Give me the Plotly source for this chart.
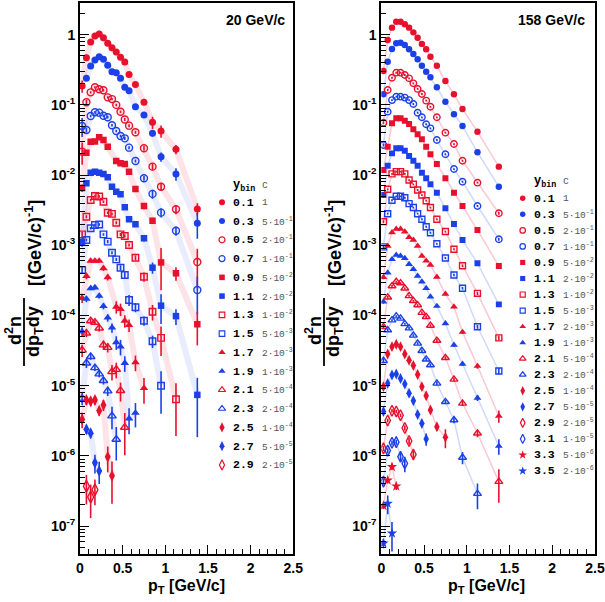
import plotly.graph_objects as go

N = None
pt = [0.025, 0.075, 0.125, 0.175, 0.225, 0.275, 0.325, 0.375, 0.425, 0.475,
      0.525, 0.575, 0.65, 0.75, 0.85, 0.95, 1.125, 1.375]

# ---------------- 20 GeV/c (values already multiplied by c) ----------------
y20_01 = [0.186, 0.47, 0.79, 0.96, 1.02, 0.905, 0.754, 0.65, 0.567, 0.476, 0.41, 0.27, 0.196, 0.109, 0.0566, 0.0425, 0.0233, 0.0033]
y20_03 = [N, 0.239, 0.358, 0.436, 0.486, 0.446, 0.366, 0.297, 0.288, 0.239, 0.178, 0.159, 0.094, 0.072, 0.0394, 0.0183, 0.0104, 0.00206]
y20_05 = [0.0216, 0.109, 0.151, 0.178, 0.167, 0.162, 0.128, 0.121, 0.1, 0.08, 0.062, 0.0506, 0.0407, 0.0241, 0.0132, 0.00684, 0.00326, 0.000578]
y20_07 = [0.05, 0.0439, 0.0695, 0.0785, 0.0775, 0.0702, 0.0666, 0.0512, 0.0425, 0.036, 0.0334, 0.0246, 0.0159, 0.009, 0.0054, 0.00292, 0.00161, 0.000231]
y20_09 = [0.00655, 0.0208, 0.0299, 0.0302, 0.0345, 0.0316, 0.0254, N, 0.0159, 0.0147, 0.0144, 0.0112, 0.00634, 0.00362, 0.00224, 0.00057, 0.0004, 7.5e-5]
y20_11 = [0.00112, 0.00764, 0.0108, 0.0112, 0.0108, 0.0104, 0.0093, 0.00684, 0.0058, 0.00532, 0.00348, 0.00235, 0.002, 0.00126, 0.00048, 0.000138, 9.8e-5, 7.4e-6]
y20_13 = [0.00143, 0.00255, 0.00442, 0.00504, 0.00495, 0.00418, 0.00291, 0.0028, 0.0021, 0.00143, 0.00136, 0.00101, 0.000666, 0.000357, 0.000113, 4.8e-5, 6.4e-6, N]
y20_15 = [0.000445, 0.00119, 0.00175, 0.00195, 0.00198, 0.00143, 0.00113, 0.000785, 0.00063, 0.00048, 0.000377, 0.000166, 0.000131, 8.4e-5, 4.3e-5, 1.0e-5, N, N]
y20_17 = [0.000177, 0.000365, 0.0006, 0.0006, 0.0006, 0.00047, 0.00035, N, 0.000133, 0.000123, 8.4e-5, 7.3e-5, 2.15e-5, 9.2e-6, N, N, N, N]
y20_19 = [5.9e-5, 0.000172, 0.000244, 0.00025, 0.00019, 0.000136, 9.3e-5, 6.7e-5, 4.15e-5, 3.6e-5, 2.1e-5, 3.4e-6, 4.1e-6, N, N, N, N, N]
y20_21 = [3.2e-5, 5.6e-5, 8.4e-5, 8.0e-5, 6.6e-5, 3.8e-5, 3.5e-5, 1.58e-5, 1.7e-5, 8.5e-6, 2.55e-6, N, N, N, N, N, N, N]
y20_23 = [6.6e-6, 2.1e-5, 2.6e-5, 1.8e-5, 1.47e-5, 1.18e-5, 8.4e-6, 3.7e-6, 1.72e-6, N, N, N, N, N, N, N, N, N]
y20_25 = [3.3e-6, 6.25e-6, 6.0e-6, 6.25e-6, 4.4e-6, 5.3e-6, 9.7e-7, 5.2e-7, N, N, N, N, N, N, N, N, N, N]
y20_27 = [N, 2.4e-6, 2.1e-6, 8.0e-7, 6.1e-7, N, N, N, N, N, N, N, N, N, N, N, N, N]
y20_29 = [N, 3.7e-7, 2.6e-7, 3.3e-7, N, N, N, N, N, N, N, N, N, N, N, N, N, N]

# relative errors, 20 GeV/c
e20_01 = [0.2, 0.1, 0.04, 0.04, 0.04, 0.04, 0.04, 0.04, 0.04, 0.04, 0.04, 0.08, 0.08, 0.08, 0.2, 0.2, 0.15, 0.2]
e20_03 = [0, 0.05, 0.04, 0.04, 0.04, 0.04, 0.04, 0.04, 0.04, 0.04, 0.04, 0.05, 0.05, 0.08, 0.1, 0.15, 0.2, 0.4]
e20_05 = [0.35, 0.08, 0.04, 0.04, 0.04, 0.04, 0.04, 0.04, 0.04, 0.04, 0.05, 0.05, 0.05, 0.08, 0.12, 0.12, 0.15, 0.55]
e20_07 = [0.3, 0.08, 0.04, 0.04, 0.04, 0.04, 0.04, 0.04, 0.04, 0.04, 0.05, 0.05, 0.05, 0.08, 0.15, 0.15, 0.15, 0.55]
e20_09 = [0.12, 0.05, 0.04, 0.04, 0.04, 0.04, 0.04, 0, 0.05, 0.05, 0.05, 0.05, 0.08, 0.1, 0.1, 0.6, 0.22, 0.5]
e20_11 = [0.15, 0.05, 0.04, 0.04, 0.04, 0.04, 0.04, 0.05, 0.05, 0.05, 0.05, 0.05, 0.08, 0.1, 0.18, 0.45, 0.25, 0.75]
e20_13 = [0.08, 0.05, 0.04, 0.04, 0.04, 0.04, 0.04, 0.04, 0.05, 0.05, 0.05, 0.05, 0.08, 0.15, 0.25, 0.45, 0.7, 0]
e20_15 = [0.1, 0.05, 0.04, 0.04, 0.04, 0.04, 0.05, 0.05, 0.05, 0.08, 0.1, 0.18, 0.15, 0.15, 0.2, 0.6, 0, 0]
e20_17 = [0.15, 0.1, 0.05, 0.05, 0.05, 0.08, 0.1, 0, 0.2, 0.2, 0.2, 0.2, 0.25, 0.4, 0, 0, 0, 0]
e20_19 = [0.15, 0.1, 0.06, 0.06, 0.08, 0.1, 0.12, 0.15, 0.22, 0.25, 0.25, 0.4, 0.38, 0, 0, 0, 0, 0]
e20_21 = [0.2, 0.12, 0.08, 0.08, 0.1, 0.15, 0.15, 0.25, 0.25, 0.3, 0.6, 0, 0, 0, 0, 0, 0, 0]
e20_23 = [0.2, 0.15, 0.1, 0.1, 0.1, 0.12, 0.15, 0.35, 0.5, 0, 0, 0, 0, 0, 0, 0, 0, 0]
e20_25 = [0.25, 0.15, 0.15, 0.15, 0.15, 0.18, 0.4, 0.6, 0, 0, 0, 0, 0, 0, 0, 0, 0, 0]
e20_27 = [0, 0.15, 0.15, 0.3, 0.35, 0, 0, 0, 0, 0, 0, 0, 0, 0, 0, 0, 0, 0]
e20_29 = [0, 0.45, 0.5, 0.4, 0, 0, 0, 0, 0, 0, 0, 0, 0, 0, 0, 0, 0, 0]

# ---------------- 158 GeV/c ----------------
y158_01 = [0.304, 0.84, 1.26, 1.53, 1.53, 1.41, 1.26, 1.08, 0.906, 0.74, 0.62, 0.486, 0.362, 0.219, 0.142, 0.0874, 0.0415, 0.0132]
y158_03 = [0.142, 0.412, 0.625, 0.754, 0.77, 0.713, 0.62, 0.531, 0.446, 0.362, 0.297, 0.247, 0.178, 0.111, 0.0735, 0.05, 0.0211, 0.00684]
y158_05 = [0.0557, 0.163, 0.244, 0.288, 0.288, 0.267, 0.239, 0.203, 0.169, 0.143, 0.115, 0.094, 0.0666, 0.0402, 0.0277, 0.016, 0.0078, 0.00286]
y158_07 = [0.0268, 0.08, 0.117, 0.131, 0.131, 0.127, 0.117, 0.103, 0.0774, 0.0666, 0.053, 0.0464, 0.0316, 0.0198, 0.0122, 0.00805, 0.00363, 0.00122]
y158_09 = [0.0118, 0.0254, 0.0547, 0.0644, 0.0644, 0.0596, 0.0535, 0.0449, 0.0381, 0.0324, 0.0254, 0.0198, 0.0144, 0.009, 0.00561, 0.00363, 0.00165, 0.000507]
y158_11 = [0.0052, 0.0136, 0.0204, 0.0241, 0.0241, 0.0223, 0.0187, 0.016, 0.0136, 0.0108, 0.009, 0.0074, 0.0056, 0.00337, 0.00201, 0.00119, 0.000554, 0.000144]
y158_13 = [0.00217, 0.00628, 0.0104, 0.0112, 0.0112, 0.0104, 0.0085, 0.0074, 0.00614, 0.0052, 0.00432, 0.00345, 0.00235, 0.00157, 0.00088, 0.000512, 0.000207, 4.8e-5]
y158_15 = [0.00095, 0.00282, 0.00438, 0.00499, 0.00499, 0.00476, 0.00392, 0.00345, 0.00282, 0.00235, 0.00184, 0.00151, 0.00105, 0.00066, 0.000377, 0.000244, 6.9e-5, 1.62e-5]
y158_17 = [0.00035, 0.00098, 0.00152, 0.00171, 0.00171, 0.00156, 0.0013, 0.00119, 0.00098, 0.000704, 0.0006, 0.000524, 0.000353, 0.000202, 0.000133, 5.8e-5, 1.9e-5, 3.7e-6]
y158_19 = [0.000157, 0.000407, 0.00063, 0.000728, 0.000705, 0.000653, 0.000536, 0.000455, 0.000365, 0.000303, 0.000244, 0.000185, 0.000136, 7.7e-5, 3.8e-5, 2.04e-5, 6.7e-6, 1.38e-6]
y158_21 = [6.9e-5, 0.000182, 0.000263, 0.000303, 0.00029, 0.000244, 0.00019, 0.000162, 0.000141, 0.00011, 9.6e-5, 7.2e-5, 4.4e-5, 2.5e-5, 1.23e-5, 5.6e-6, 2.1e-6, 4.3e-7]
y158_23 = [2.27e-5, 6.2e-5, 8.6e-5, 9.8e-5, 9.1e-5, 7.6e-5, 6.6e-5, 5.2e-5, 4.0e-5, 3.15e-5, 2.38e-5, 1.97e-5, 1.08e-5, 5.9e-6, 3.25e-6, 9.5e-7, 2.9e-7, N]
y158_25 = [9.7e-6, 2.83e-5, 3.6e-5, 3.9e-5, 3.6e-5, 2.83e-5, 2.3e-5, 1.94e-5, 1.44e-5, 9.7e-6, 7.2e-6, 4.5e-6, 2.6e-6, 1.84e-6, N, N, N, N]
y158_27 = [4.3e-6, 1.08e-5, 1.42e-5, 1.47e-5, 1.27e-5, 1.06e-5, 7.8e-6, 6.1e-6, 3.9e-6, 2.9e-6, 1.74e-6, N, N, N, N, N, N, N]
y158_29 = [1.28e-6, 3.2e-6, 4.4e-6, 4.3e-6, 3.8e-6, 2.5e-6, 1.63e-6, 1.05e-6, N, N, N, N, N, N, N, N, N, N]
y158_31 = [4.3e-7, 1.19e-6, 1.54e-6, 1.57e-6, 9.7e-7, 7.8e-7, N, N, N, N, N, N, N, N, N, N, N, N]
y158_33 = [1.95e-7, 4.5e-7, 7.0e-7, 3.7e-7, N, N, N, N, N, N, N, N, N, N, N, N, N, N]
y158_35 = [5.7e-8, 2.1e-7, 7.9e-8, N, N, N, N, N, N, N, N, N, N, N, N, N, N, N]

e158_01 = [0.05, 0.03, 0.03, 0.03, 0.03, 0.03, 0.03, 0.03, 0.03, 0.03, 0.03, 0.03, 0.03, 0.03, 0.03, 0.03, 0.03, 0.04]
e158_03 = [0.05, 0.03, 0.03, 0.03, 0.03, 0.03, 0.03, 0.03, 0.03, 0.03, 0.03, 0.03, 0.03, 0.03, 0.03, 0.03, 0.03, 0.05]
e158_05 = [0.05, 0.03, 0.03, 0.03, 0.03, 0.03, 0.03, 0.03, 0.03, 0.03, 0.03, 0.03, 0.03, 0.03, 0.03, 0.03, 0.03, 0.05]
e158_07 = [0.05, 0.03, 0.03, 0.03, 0.03, 0.03, 0.03, 0.03, 0.03, 0.03, 0.03, 0.03, 0.03, 0.03, 0.03, 0.03, 0.03, 0.05]
e158_09 = [0.05, 0.03, 0.03, 0.03, 0.03, 0.03, 0.03, 0.03, 0.03, 0.03, 0.03, 0.03, 0.03, 0.03, 0.03, 0.03, 0.04, 0.06]
e158_11 = [0.05, 0.03, 0.03, 0.03, 0.03, 0.03, 0.03, 0.03, 0.03, 0.03, 0.03, 0.03, 0.03, 0.03, 0.03, 0.03, 0.04, 0.06]
e158_13 = [0.05, 0.03, 0.03, 0.03, 0.03, 0.03, 0.03, 0.03, 0.03, 0.03, 0.03, 0.03, 0.03, 0.03, 0.03, 0.04, 0.05, 0.08]
e158_15 = [0.05, 0.03, 0.03, 0.03, 0.03, 0.03, 0.03, 0.03, 0.03, 0.03, 0.03, 0.03, 0.03, 0.03, 0.04, 0.04, 0.06, 0.1]
e158_17 = [0.06, 0.03, 0.03, 0.03, 0.03, 0.03, 0.03, 0.03, 0.03, 0.03, 0.03, 0.03, 0.04, 0.04, 0.05, 0.06, 0.08, 0.2]
e158_19 = [0.06, 0.03, 0.03, 0.03, 0.03, 0.03, 0.03, 0.03, 0.03, 0.03, 0.03, 0.04, 0.04, 0.05, 0.06, 0.06, 0.1, 0.25]
e158_21 = [0.06, 0.04, 0.03, 0.03, 0.03, 0.03, 0.03, 0.03, 0.03, 0.04, 0.04, 0.04, 0.05, 0.05, 0.06, 0.08, 0.12, 0.5]
e158_23 = [0.08, 0.04, 0.03, 0.03, 0.03, 0.03, 0.04, 0.04, 0.04, 0.04, 0.05, 0.05, 0.06, 0.06, 0.1, 0.2, 0.4, 0]
e158_25 = [0.06, 0.04, 0.04, 0.04, 0.04, 0.04, 0.05, 0.05, 0.05, 0.06, 0.06, 0.08, 0.12, 0.3, 0, 0, 0, 0]
e158_27 = [0.06, 0.05, 0.04, 0.04, 0.05, 0.05, 0.06, 0.06, 0.08, 0.1, 0.2, 0, 0, 0, 0, 0, 0, 0]
e158_29 = [0.08, 0.06, 0.06, 0.06, 0.06, 0.08, 0.1, 0.12, 0, 0, 0, 0, 0, 0, 0, 0, 0, 0]
e158_31 = [0.1, 0.08, 0.08, 0.08, 0.15, 0.25, 0, 0, 0, 0, 0, 0, 0, 0, 0, 0, 0, 0]
e158_33 = [0.1, 0.1, 0.1, 0.12, 0, 0, 0, 0, 0, 0, 0, 0, 0, 0, 0, 0, 0, 0]
e158_35 = [0.15, 0.3, 0.45, 0, 0, 0, 0, 0, 0, 0, 0, 0, 0, 0, 0, 0, 0, 0]

ybins = ["0.1", "0.3", "0.5", "0.7", "0.9", "1.1", "1.3", "1.5", "1.7",
         "1.9", "2.1", "2.3", "2.5", "2.7", "2.9", "3.1", "3.3", "3.5"]
c_labels = ["1", "5·10<sup>-1</sup>", "2·10<sup>-1</sup>", "1·10<sup>-1</sup>",
            "5·10<sup>-2</sup>", "2·10<sup>-2</sup>", "1·10<sup>-2</sup>",
            "5·10<sup>-3</sup>", "2·10<sup>-3</sup>", "1·10<sup>-3</sup>",
            "5·10<sup>-4</sup>", "2·10<sup>-4</sup>", "1·10<sup>-4</sup>",
            "5·10<sup>-5</sup>", "2·10<sup>-5</sup>", "1·10<sup>-5</sup>",
            "5·10<sup>-6</sup>", "2·10<sup>-6</sup>"]
y_ticks = [1e-7, 1e-6, 1e-5, 1e-4, 1e-3, 1e-2, 1e-1, 1]
y_ticktext = ["10<sup>-7</sup>", "10<sup>-6</sup>", "10<sup>-5</sup>", "10<sup>-4</sup>",
              "10<sup>-3</sup>", "10<sup>-2</sup>", "10<sup>-1</sup>", "1"]
x_ticks = [0, 0.5, 1, 1.5, 2, 2.5]

series20 = [(y20_01, e20_01), (y20_03, e20_03), (y20_05, e20_05), (y20_07, e20_07),
            (y20_09, e20_09), (y20_11, e20_11), (y20_13, e20_13), (y20_15, e20_15),
            (y20_17, e20_17), (y20_19, e20_19), (y20_21, e20_21), (y20_23, e20_23),
            (y20_25, e20_25), (y20_27, e20_27), (y20_29, e20_29)]
series158 = [(y158_01, e158_01), (y158_03, e158_03), (y158_05, e158_05), (y158_07, e158_07),
             (y158_09, e158_09), (y158_11, e158_11), (y158_13, e158_13), (y158_15, e158_15),
             (y158_17, e158_17), (y158_19, e158_19), (y158_21, e158_21), (y158_23, e158_23),
             (y158_25, e158_25), (y158_27, e158_27), (y158_29, e158_29), (y158_31, e158_31),
             (y158_33, e158_33), (y158_35, e158_35)]

RED = "#e8112d"
BLUE = "#1c40e8"
SYMS = ["circle", "circle-open", "square", "square-open", "triangle-up",
        "triangle-up-open", "diamond-tall", "diamond-tall-open", "star"]
SIZES = [7, 7, 6.5, 6.5, 7.5, 7.5, 8.5, 8.5, 8.5]

W, H = 605, 602
def px(x):
    return x / W
def py(y):
    return 1 - y / H

def style(i):
    col = RED if i % 2 == 0 else BLUE
    return col, SYMS[i // 2], SIZES[i // 2]

fig = go.Figure()

panels = [
    (series20, "x", "y", 6, ("rgba(240,100,130,0.18)", "rgba(100,130,240,0.15)"), 1.0),
    (series158, "x2", "y2", 1.5, ("rgba(240,120,150,0.40)", "rgba(120,150,240,0.35)"), 0.92),
]

for ser, xa, ya, bw, bcols, sc in panels:
    for i, (ys, es) in enumerate(ser):
        bc = bcols[i % 2]
        fig.add_trace(go.Scatter(x=pt, y=ys, mode="lines", connectgaps=True,
                                 line=dict(color=bc, width=bw),
                                 xaxis=xa, yaxis=ya, hoverinfo="skip", showlegend=False))

for ser, xa, ya, bw, bcols, sc in panels:
    for i, (ys, es) in enumerate(ser):
        col, sym, sz = style(i)
        up = [None if v is None else v * e for v, e in zip(ys, es)]
        dn = [None if v is None else v * e for v, e in zip(ys, es)]
        fig.add_trace(go.Scatter(
            x=pt, y=ys, mode="markers",
            marker=dict(symbol=sym, size=sz * sc, color=col,
                        line=dict(color=col, width=1.4 if "open" in sym else 0)),
            error_y=dict(type="data", symmetric=False, array=up, arrayminus=dn,
                         color=col, thickness=1.6, width=0),
            xaxis=xa, yaxis=ya, hoverinfo="skip", showlegend=False))

# legend markers on a pixel overlay axis
leg_specs = [(15, 222.0, 202.3, 18.76, 6.0), (18, 522.7, 198.3, 16.04, 5.5)]
for n, lx, ly0, dy, ms in leg_specs:
    for i in range(n):
        col, sym, sz = style(i)
        fig.add_trace(go.Scatter(
            x=[lx], y=[ly0 + i * dy], mode="markers",
            marker=dict(symbol=sym, size=ms * sz / 7, color=col,
                        line=dict(color=col, width=1.2 if "open" in sym else 0)),
            xaxis="x3", yaxis="y3", hoverinfo="skip", showlegend=False))

FONT = "Liberation Sans, Arial, sans-serif"
MONO = "Liberation Mono, Courier New, monospace"
ann = []

def A(x, y, text, size, family=FONT, color="black", xanchor="center", angle=0):
    ann.append(dict(x=px(x), y=py(y), xref="paper", yref="paper", text=text, showarrow=False,
                    xanchor=xanchor, yanchor="middle", textangle=angle,
                    font=dict(family=family, size=size, color=color)))

for n, lx, ly0, dy, ms in leg_specs:
    tx = lx + 9
    cx = lx + 38
    A(tx, ly0 - 16.5, "<b>y<sub>bin</sub></b>", 12, MONO, "black", "left")
    A(cx, ly0 - 16.5, "c", 10, MONO, "#555", "left")
    for i in range(n):
        yy = ly0 + i * dy
        A(tx, yy, "<b>" + ybins[i] + "</b>", 11.5, MONO, "black", "left")
        A(cx, yy, c_labels[i], 9.5, MONO, "#555", "left")

for off, title, tr in [(0, "<b>20 GeV/c</b>", 287), (300, "<b>158 GeV/c</b>", 587)]:
    A(tr, 20, title, 14, xanchor="right")
    A(186.5 + off, 586, "<b>p<sub>T</sub> [GeV/c]</b>", 16)
    A(13 + off, 331, "<b>d<sup>2</sup>n</b>", 18, angle=-90)
    A(35 + off, 332, "<b>dp<sub>T</sub>dy</b>", 18, angle=-90)
    A(34 + off, 243, "<b>[(GeV/c)<sup>-1</sup>]</b>", 18, angle=-90)

shapes = [dict(type="line", xref="paper", yref="paper", x0=px(24 + off), x1=px(24 + off),
               y0=py(298), y1=py(366), line=dict(color="black", width=1.8)) for off in (0, 300)]

ylo, yhi = -7.3974, 0.4587
minor_y = [k * 10.0 ** p for p in range(-8, 1) for k in range(2, 10)]

def xax(dom, anchor):
    return dict(domain=dom, range=[0, 2.5], anchor=anchor, tickvals=x_ticks,
                ticktext=["0", "0.5", "1", "1.5", "2", "2.5"],
                ticks="inside", ticklen=9, tickwidth=1.3, tickcolor="black",
                minor=dict(ticks="inside", ticklen=5, tickwidth=1, dtick=0.1, tick0=0, tickcolor="black"),
                showline=True, linewidth=2, linecolor="black", mirror=True,
                showgrid=False, zeroline=False, fixedrange=True, automargin=False,
                tickfont=dict(family=FONT, size=14, color="black", weight="bold"))

def yax(anchor):
    return dict(domain=[(H - 554) / H, (H - 2.5) / H], type="log", range=[ylo, yhi], anchor=anchor,
                tickvals=y_ticks, ticktext=y_ticktext,
                ticks="inside", ticklen=9, tickwidth=1.3, tickcolor="black",
                minor=dict(ticks="inside", ticklen=5, tickwidth=1, tickvals=minor_y, tickcolor="black"),
                showline=True, linewidth=2, linecolor="black", mirror=True,
                showgrid=False, zeroline=False, fixedrange=True, automargin=False,
                tickfont=dict(family=FONT, size=14, color="black", weight="bold"))

fig.update_layout(
    width=W, height=H, margin=dict(l=0, r=0, t=0, b=0, autoexpand=False),
    paper_bgcolor="white", plot_bgcolor="rgba(0,0,0,0)",
    showlegend=False,
    xaxis=xax([80 / W, 293.3 / W], "y"),
    yaxis=yax("x"),
    xaxis2=xax([381.3 / W, 595 / W], "y2"),
    yaxis2=yax("x2"),
    xaxis3=dict(domain=[0, 1], range=[0, W], visible=False, anchor="y3", fixedrange=True, automargin=False),
    yaxis3=dict(domain=[0, 1], range=[H, 0], visible=False, anchor="x3", fixedrange=True, automargin=False),
    annotations=ann, shapes=shapes,
)

fig.write_html("out.html", config={"displayModeBar": False},
               post_script="document.body.style.margin='0';document.body.style.padding='0';"
                           "document.body.style.overflow='hidden';")
